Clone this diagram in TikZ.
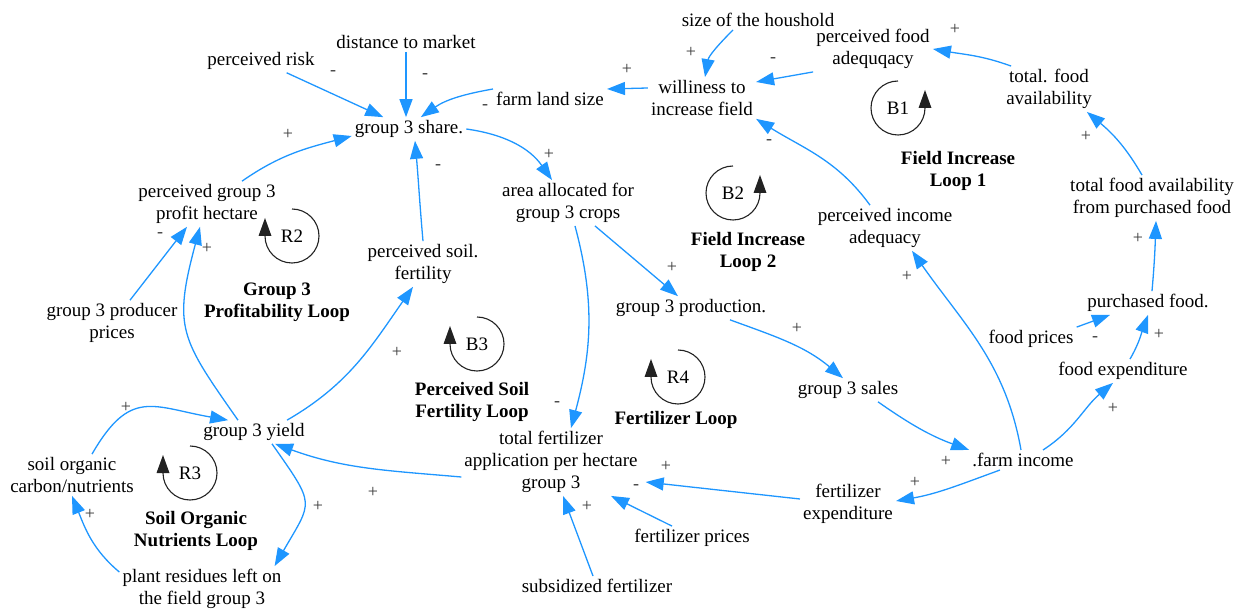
\documentclass[tikz,border=0pt]{standalone}
\usepackage{fontspec}
\setmainfont{Liberation Serif}
\usetikzlibrary{arrows.meta}
\definecolor{linkblue}{HTML}{1E96FF}
\definecolor{signgray}{HTML}{3A3A3A}
\definecolor{loopgray}{HTML}{222222}
\newcommand{\varfont}{\fontsize{19}{22}\selectfont}
\newcommand{\signfont}{\fontsize{18}{18}\selectfont}

\begin{document}
\begin{tikzpicture}[x=1pt,y=1pt,
  var/.style={font=\varfont, align=center, inner sep=3pt},
  looptitle/.style={font=\varfont\bfseries, align=center, inner sep=0pt},
  looplab/.style={font=\varfont, inner sep=0pt},
  sign/.style={font=\signfont, text=signgray, inner sep=0pt},
  link/.style={draw=linkblue, line width=1.3pt, -{Triangle[length=18pt,width=13pt]}},
  loopline/.style={draw=loopgray, line width=1.1pt},
]
\useasboundingbox (0,0) rectangle (1245,-609);

% ---------- variables ----------
\node[var] (risk)    at (261,-61)  {perceived risk};
\node[var] (dist)    at (406,-42)  {distance to market};
\node[var] (share)   at (409,-129) {group 3 share.};
\node[var] (land)    at (550,-99)  {farm land size};
\node[var] (will)    at (702,-98)  {williness to\\increase field};
\node[var] (house)   at (758,-20)  {size of the houshold};
\node[var] (pfood)   at (873,-49)  {perceived food\\adequqacy};
\node[var] (tfood)   at (1049,-89) {total. food\\availability};
\node[var] (tfap)    at (1152,-198){total food availability\\from purchased food};
\node[var] (pinc)    at (885,-228) {perceived income\\adequacy};
\node[var] (ppro)    at (207,-204) {perceived group 3\\profit hectare};
\node[var] (prices)  at (112,-323) {group 3 producer\\prices};
\node[var] (psoil)   at (423,-264) {perceived soil.\\fertility};
\node[var] (area)    at (568,-203) {area allocated for\\group 3 crops};
\node[var] (prod)    at (691,-308) {group 3 production.};
\node[var] (sales)   at (848,-390) {group 3 sales};
\node[var] (farm)    at (1023,-460){.farm income};
\node[var] (fexp)    at (848,-504) {fertilizer\\expenditure};
\node[var] (foodexp) at (1123,-371){food expenditure};
\node[var] (fprices) at (1031,-339){food prices};
\node[var] (purch)   at (1148,-303){purchased food.};
\node[var] (tfert)   at (551,-462) {total fertilizer\\application per hectare\\group 3};
\node[var] (fprice2) at (692,-538) {fertilizer prices};
\node[var] (subs)    at (597,-586) {subsidized fertilizer};
\node[var] (yield)   at (254,-432) {group 3 yield};
\node[var] (soc)     at (72,-475)  {soil organic\\carbon/nutrients};
\node[var] (plant)   at (202,-589) {plant residues left on\\the field group 3};

% ---------- loop titles ----------
\node[looptitle] (t1) at (958,-171) {Field Increase\\Loop 1};
\node[looptitle] (t2) at (748,-252) {Field Increase\\Loop 2};
\node[looptitle] (t3) at (277,-302) {Group 3\\Profitability Loop};
\node[looptitle] (t4) at (472,-402) {Perceived Soil\\Fertility Loop};
\node[looptitle] (t5) at (676,-420) {Fertilizer Loop};
\node[looptitle] (t6) at (196,-531) {Soil Organic\\Nutrients Loop};

% ---------- loop markers: arrow on the right, turning counterclockwise ----------
\foreach \n/\cx/\cy/\lab in {b1/898/108/B1, b2/733/193/B2} {
  \node[looplab] (\n) at (\cx,-\cy) {\lab};
  \draw[loopline] (\cx,-\cy) ++(90:27) arc[start angle=90, end angle=360, radius=27];
  \fill[loopgray] (\cx+27,-\cy) ++(-6.5,0) -- ++(13,0) -- ++(-6.5,18) -- cycle;
}
% ---------- loop markers: arrow on the left, turning clockwise ----------
\foreach \n/\cx/\cy/\lab in {r2/292/236/R2, b3/477/344/B3, r4/678/377/R4, r3/190/473/R3} {
  \node[looplab] (\n) at (\cx,-\cy) {\lab};
  \draw[loopline] (\cx,-\cy) ++(90:27) arc[start angle=90, end angle=-180, radius=27];
  \fill[loopgray] (\cx-27,-\cy) ++(-6.5,0) -- ++(13,0) -- ++(-6.5,18) -- cycle;
}

% ---------- causal links ----------
\draw[link] (risk) -- (share);
\draw[link] (dist.south) -- (dist.south |- share.north);
\draw[link] ([yshift=10pt]land.west) to[out=190,in=35] (share.45);
\draw[link] ([yshift=10pt]will.west) -- ([yshift=10pt]land.east);
\draw[link] ([xshift=-25pt]house.south) to[out=225,in=80] ([xshift=3pt]will.north);
\draw[link] (pfood.south west) -- ([yshift=16pt]will.east);
\draw[link] ([xshift=-15pt]pinc.north) to[out=126,in=-32] (will.south east);
\draw[link] ([xshift=8pt]tfood.north west) to[out=160,in=-10] (pfood.east);
\draw[link] ([xshift=-10pt]tfap.north) to[out=120,in=-40] ([xshift=-8pt]tfood.south east);
\draw[link] ([xshift=4pt]purch.north) to[out=85,in=-92] ([xshift=4pt]tfap.south);
\draw[link] ([xshift=7pt]foodexp.north) to[out=60,in=-110] (purch.south);
\draw[link] (fprices.north east) -- ([xshift=-38pt]purch.south);
\draw[link] ([xshift=20pt]farm.north) to[out=33,in=-140] ([xshift=-10pt]foodexp.south);
\draw[link] ([xshift=-2pt]farm.north) to[out=100,in=-55] ([xshift=27pt]pinc.south);
\draw[link] ([xshift=-23pt]farm.south) to[out=200,in=10] ([yshift=3pt]fexp.east);
\draw[link] ([xshift=30pt]sales.south) to[out=-35,in=160] (farm.north west);
\draw[link] ([xshift=39pt]prod.south) to[out=-20,in=140] ([xshift=-5pt]sales.north);
\draw[link] ([xshift=27pt]area.south) -- ([xshift=-13pt]prod.north);
\draw[link] ([xshift=7pt]area.south) to[out=-75,in=75] ([xshift=20pt]tfert.north);
\draw[link] (share.east) to[out=-8,in=125] ([xshift=-16pt]area.north);
\draw[link] (psoil.north) to[out=95,in=-85] ([xshift=6pt]share.south);
\draw[link] ([xshift=35pt]ppro.north) to[out=35,in=195] ([yshift=-7pt]share.west);
\draw[link] ([xshift=18pt]prices.north) -- ([xshift=-20pt]ppro.south);
\draw[link] ([xshift=-16pt]yield.north) to[out=125,in=-105,out distance=100pt,in distance=105pt] ([xshift=-7pt]ppro.south);
\draw[link] ([xshift=33pt]yield.north) to[out=30,in=-125] ([xshift=-10pt]psoil.south);
\draw[link] ([yshift=-15pt]tfert.west) to[out=175,in=-20] ([xshift=21pt]yield.south);
\draw[link] ([xshift=20pt]soc.north) to[out=60,in=170,looseness=1.4] ([xshift=28pt]yield.north west);
\draw[link] ([xshift=18pt]yield.south) to[out=-55,in=60,looseness=1.6] ([xshift=-10pt]plant.north east);
\draw[link] ([yshift=-6pt]plant.north west) to[out=140,in=-68] (soc.south);
\draw[link] ([yshift=5pt]fexp.west) -- ([xshift=5pt,yshift=-20pt]tfert.east);
\draw[link] ([xshift=-20pt]fprice2.north) -- ([xshift=60pt]tfert.south);
\draw[link] ([xshift=-4pt]subs.north) -- ([xshift=12pt]tfert.south);

% ---------- link polarities ----------
\node[sign] (s1)  at (333,-73)  {-};
\node[sign] (s2)  at (425,-76)  {-};
\node[sign] (s3)  at (485,-107) {-};
\node[sign] (s4)  at (627,-69)  {+};
\node[sign] (s5)  at (691,-52)  {+};
\node[sign] (s6)  at (773,-60)  {-};
\node[sign] (s7)  at (769,-142) {-};
\node[sign] (s8)  at (549,-154) {+};
\node[sign] (s9)  at (438,-167) {-};
\node[sign] (s10) at (672,-267) {+};
\node[sign] (s11) at (955,-29)  {+};
\node[sign] (s12) at (1086,-136){+};
\node[sign] (s13) at (1138,-238){+};
\node[sign] (s14) at (907,-276) {+};
\node[sign] (s15) at (288,-134) {+};
\node[sign] (s16) at (160,-235) {-};
\node[sign] (s17) at (207,-248) {+};
\node[sign] (s18) at (397,-352) {+};
\node[sign] (s19) at (126,-407) {+};
\node[sign] (s20) at (90,-514)  {+};
\node[sign] (s21) at (318,-506) {+};
\node[sign] (s22) at (373,-492) {+};
\node[sign] (s23) at (557,-404) {-};
\node[sign] (s24) at (666,-466) {+};
\node[sign] (s25) at (636,-487) {-};
\node[sign] (s26) at (587,-506) {+};
\node[sign] (s27) at (797,-328) {+};
\node[sign] (s28) at (946,-461) {+};
\node[sign] (s29) at (915,-482) {+};
\node[sign] (s30) at (1113,-408){+};
\node[sign] (s31) at (1095,-339){-};
\node[sign] (s32) at (1159,-334){+};
\end{tikzpicture}
\end{document}
